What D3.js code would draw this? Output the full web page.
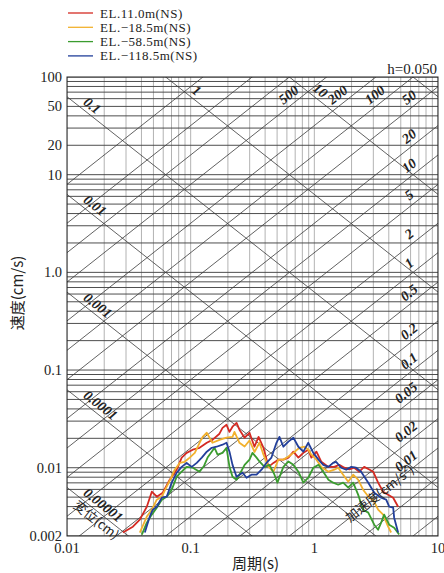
<!DOCTYPE html>
<html><head><meta charset="utf-8">
<script src="https://cdn.jsdelivr.net/npm/d3@7"></script>
<style>body{margin:0;background:#fff}svg{display:block}</style>
</head><body>
<script>
// ---- data ----
const seriesNames = ["EL.11.0m(NS)", "EL.\u221218.5m(NS)", "EL.\u221258.5m(NS)", "EL.\u2212118.5m(NS)"];
const seriesColors = ["#d42a22", "#f2b12e", "#3b9c2f", "#223f9a"];

const redT = [0.0283,0.0341,0.0388,0.0442,0.0485,0.0532,0.0595,0.0677,0.0771,0.0846,0.0928,0.104,0.118,0.135,0.150,0.171,0.181,0.195,0.206,0.218,0.235,0.248,0.273,0.299,0.328,0.354,0.388,0.426,0.467,0.512,0.562,0.617,0.677,0.743,0.815,0.894,0.946,1.04,1.14,1.30,1.45,1.59,1.75,1.92,2.10,2.31,2.53,2.78,2.99,3.28,3.60,3.95,4.34,4.76];
const redV = [0.00217,0.00249,0.00294,0.00399,0.00568,0.00505,0.00555,0.00754,0.00954,0.0127,0.0142,0.0153,0.0160,0.0180,0.0193,0.0223,0.0256,0.0275,0.0233,0.0263,0.0288,0.0245,0.0203,0.0228,0.0164,0.0207,0.0160,0.0102,0.0112,0.0121,0.0121,0.0127,0.0146,0.0127,0.0142,0.0153,0.0127,0.0146,0.0115,0.0102,0.0102,0.0107,0.0100,0.0096,0.0100,0.0091,0.0102,0.0096,0.0091,0.00703,0.00568,0.0053,0.00493,0.00399];

const yellowT = [0.0388,0.0442,0.0485,0.0532,0.0584,0.0640,0.0703,0.0743,0.0815,0.0894,0.0982,0.108,0.118,0.125,0.135,0.142,0.150,0.171,0.195,0.218,0.226,0.248,0.273,0.299,0.328,0.360,0.388,0.426,0.467,0.512,0.562,0.617,0.677,0.757,0.831,0.894,0.946,1.04,1.14,1.30,1.45,1.56,1.71,1.88,2.06,2.26,2.48,2.78,2.99,3.28,3.60,3.95,4.18];
const yellowV = [0.00217,0.00316,0.00372,0.00471,0.00505,0.00639,0.00809,0.00954,0.0112,0.0115,0.0127,0.0142,0.0180,0.0207,0.0228,0.0203,0.0180,0.0193,0.0203,0.0207,0.0233,0.0180,0.0165,0.0190,0.0145,0.0180,0.0136,0.0102,0.0091,0.0121,0.0121,0.0130,0.0142,0.0160,0.0164,0.0153,0.0136,0.0121,0.0102,0.0091,0.00954,0.0100,0.00848,0.00719,0.00848,0.00754,0.00596,0.00493,0.00471,0.00372,0.00331,0.00249,0.00217];

const greenT = [0.0403,0.0442,0.0485,0.0532,0.0584,0.0640,0.0703,0.0771,0.0846,0.0928,0.104,0.118,0.128,0.137,0.148,0.156,0.165,0.181,0.195,0.206,0.218,0.235,0.248,0.273,0.299,0.316,0.341,0.360,0.395,0.434,0.476,0.503,0.562,0.617,0.677,0.743,0.815,0.894,0.981,1.08,1.18,1.30,1.42,1.56,1.71,1.88,2.06,2.26,2.48,2.73,3.05,3.28,3.47,3.67,4.03,4.42,4.85];
const greenV = [0.00207,0.00274,0.00331,0.0039,0.00471,0.00505,0.00596,0.00809,0.0091,0.0102,0.0100,0.0091,0.0104,0.0127,0.0146,0.0160,0.0136,0.0142,0.0160,0.0102,0.00809,0.00754,0.00848,0.0107,0.0121,0.0142,0.0127,0.0116,0.0102,0.0107,0.00848,0.00703,0.0102,0.0116,0.0107,0.0091,0.00703,0.0079,0.0100,0.0107,0.0091,0.00754,0.00703,0.0067,0.00703,0.00624,0.00703,0.0053,0.00372,0.00347,0.00261,0.00232,0.00274,0.00331,0.00261,0.00243,0.00207];

const blueT = [0.0426,0.0467,0.0494,0.0532,0.0584,0.0640,0.0703,0.0771,0.0846,0.0928,0.102,0.112,0.123,0.135,0.148,0.162,0.181,0.195,0.206,0.218,0.235,0.248,0.263,0.283,0.310,0.341,0.374,0.410,0.450,0.494,0.522,0.562,0.617,0.677,0.743,0.815,0.894,0.981,1.08,1.18,1.30,1.42,1.50,1.65,1.81,1.99,2.18,2.39,2.73,3.05,3.47,3.81,4.03,4.34,4.42,4.76];
const blueV = [0.00217,0.00316,0.00372,0.00399,0.00493,0.00505,0.00703,0.00889,0.0102,0.0112,0.0102,0.0112,0.0127,0.0146,0.0160,0.0164,0.0172,0.0180,0.0146,0.0107,0.00809,0.00848,0.00889,0.0079,0.00848,0.00848,0.00954,0.0112,0.0127,0.0180,0.0207,0.0164,0.0185,0.0203,0.0164,0.0146,0.0180,0.0142,0.0121,0.0107,0.0102,0.0112,0.0115,0.0100,0.00954,0.0102,0.0100,0.0091,0.00703,0.00555,0.00493,0.00471,0.00399,0.0039,0.00308,0.00217];

const xTicks = [0.01, 0.1, 1, 10];
const xTickLabels = ["0.01", "0.1", "1", "10"];
const yTicks = [100, 50, 20, 10, 1, 0.1, 0.01, 0.002];
const yTickLabels = ["100", "50", "20", "10", "1.0", "0.1", "0.01", "0.002"];

const dispValues = [0.00001, 0.0001, 0.001, 0.01, 0.1, 1, 10, 100];
const dispLabels = ["0.00001", "0.0001", "0.001", "0.01", "0.1", "1", "10", ""];
const accValues = [0.002, 0.005, 0.01, 0.02, 0.05, 0.1, 0.2, 0.5, 1, 2, 5, 10, 20, 50, 100, 200, 500, 1000, 2000, 5000];
const accLabels = ["", "", "0.01", "0.02", "0.05", "0.1", "0.2", "0.5", "1", "2", "5", "10", "20", "50", "100", "200", "500", "", "", ""];

const dampingText = "h=0.050";
const xTitle = "周期(s)";
const yTitle = "速度(cm/s)";
const dispTitle = "変位(cm)";
const accTitle = "加速度(cm/s²)";

// ---- drawing ----
const W = 444, H = 573;
const L = 67, R = 438, T = 77, B = 536;
const serif = "'Liberation Serif','Times New Roman',serif";
const cjk = "'Noto Sans CJK JP','Noto Sans CJK SC',sans-serif";

const svg = d3.select("body").append("svg").attr("width", W).attr("height", H);
const x = d3.scaleLog().domain([0.01, 10]).range([L, R]);
const y = d3.scaleLog().domain([0.002, 100]).range([B, T]);

svg.append("clipPath").attr("id", "clip").append("rect")
  .attr("x", L).attr("y", T).attr("width", R - L).attr("height", B - T);
const plot = svg.append("g").attr("clip-path", "url(#clip)");

// vertical grid
const vGrid = [];
[0.01, 0.1, 1].forEach(k => { for (let m = 1; m <= 9; m++) vGrid.push(k * m); });
vGrid.push(10);
plot.selectAll(".vg").data(vGrid).enter().append("line")
  .attr("x1", d => x(d)).attr("x2", d => x(d)).attr("y1", T).attr("y2", B)
  .attr("stroke", "#a0a0a0").attr("stroke-width", 0.8);

// horizontal grid
const hGrid = [];
[0.001, 0.01, 0.1, 1, 10].forEach(k => { for (let m = 1; m <= 9; m++) { const v = +(k * m).toPrecision(3); if (v >= 0.002 && v <= 100) hGrid.push(v); } });
hGrid.push(100);
plot.selectAll(".hg").data(hGrid).enter().append("line")
  .attr("x1", L).attr("x2", R).attr("y1", d => y(d)).attr("y2", d => y(d))
  .attr("stroke", "#444").attr("stroke-width", 0.95);

// diagonal lines
const TW = 2 * Math.PI;
const Tmin = 0.001, Tmax = 20;
plot.selectAll(".dl").data(dispValues).enter().append("line")
  .attr("x1", d => x(Tmin)).attr("y1", d => y(TW * d / Tmin))
  .attr("x2", d => x(Tmax)).attr("y2", d => y(TW * d / Tmax))
  .attr("stroke", "#3a3a3a").attr("stroke-width", 0.8);
plot.selectAll(".al").data(accValues).enter().append("line")
  .attr("x1", d => x(Tmin)).attr("y1", d => y(d * Tmin / TW))
  .attr("x2", d => x(Tmax)).attr("y2", d => y(d * Tmax / TW))
  .attr("stroke", "#3a3a3a").attr("stroke-width", 0.8);

const ang = Math.atan2(y(1) - y(10), x(1) - x(0.1)) * 180 / Math.PI;

// displacement labels
const lblG = svg.append("g");
dispValues.forEach((d, i) => {
  const txt = dispLabels[i];
  if (!txt) return;
  let px = x(TW * d / 62);
  let anchor = "middle";
  if (px < 92) { px = 80; anchor = "start"; }
  const py = y(TW * d / x.invert(px));
  lblG.append("text").attr("transform", `translate(${px},${py}) rotate(${ang})`)
    .attr("dy", -4).attr("text-anchor", anchor)
    .attr("font-family", serif).attr("font-style", "italic").attr("font-weight", "bold")
    .attr("font-size", 14).attr("fill", "#222").text(txt);
});
{
  const d = dispValues[0];
  const px = 80, py = y(TW * d / x.invert(px));
  lblG.append("text").attr("transform", `translate(${px},${py}) rotate(${ang})`)
    .attr("dy", 12).attr("text-anchor", "start")
    .attr("font-family", cjk).attr("font-size", 13).attr("fill", "#222").text(dispTitle);
}
// acceleration labels
accValues.forEach((a, i) => {
  const txt = accLabels[i];
  if (!txt) return;
  let px = x(TW * 55 / a);
  if (px > 415) px = a < 0.08 ? 412 : 415;
  const py = y(a * x.invert(px) / TW);
  lblG.append("text").attr("transform", `translate(${px},${py}) rotate(${-ang})`)
    .attr("dy", -5).attr("text-anchor", "middle")
    .attr("font-family", serif).attr("font-style", "italic").attr("font-weight", "bold")
    .attr("font-size", 14).attr("fill", "#222").text(txt);
});
{
  const a = 0.01, px = 380, py = y(a * x.invert(px) / TW);
  lblG.append("text").attr("transform", `translate(${px},${py}) rotate(${-ang})`)
    .attr("dy", 4).attr("text-anchor", "middle")
    .attr("font-family", cjk).attr("font-size", 13).attr("fill", "#222").text(accTitle);
}

// series
const series = [
  { T: redT, V: redV },
  { T: yellowT, V: yellowV },
  { T: greenT, V: greenV },
  { T: blueT, V: blueV }
];
const lineGen = d3.line().x(d => x(d[0])).y(d => y(d[1]));
series.forEach((s, i) => {
  const pts = s.T.map((t, j) => [t, s.V[j]]);
  plot.append("path").attr("d", lineGen(pts)).attr("fill", "none")
    .attr("stroke", seriesColors[i]).attr("stroke-width", 1.8).attr("stroke-linejoin", "round");
});

// frame
svg.append("rect").attr("x", L).attr("y", T).attr("width", R - L).attr("height", B - T)
  .attr("fill", "none").attr("stroke", "#222").attr("stroke-width", 1);

// axes labels
svg.selectAll(".yt").data(yTicks).enter().append("text")
  .attr("x", L - 5).attr("y", d => y(d)).attr("dy", "0.35em").attr("text-anchor", "end")
  .attr("font-family", serif).attr("font-size", 14.5).attr("fill", "#222")
  .text((d, i) => yTickLabels[i]);
svg.selectAll(".xt").data(xTicks).enter().append("text")
  .attr("x", d => x(d)).attr("y", 553).attr("text-anchor", "middle")
  .attr("font-family", serif).attr("font-size", 14.5).attr("fill", "#222")
  .text((d, i) => xTickLabels[i]);

svg.append("text").attr("x", (L + R) / 2 + 3).attr("y", 569).attr("text-anchor", "middle")
  .attr("font-family", cjk).attr("font-size", 15).attr("fill", "#222").text(xTitle);
svg.append("text").attr("transform", `translate(23,293) rotate(-90)`).attr("text-anchor", "middle")
  .attr("font-family", cjk).attr("font-size", 15).attr("fill", "#222").text(yTitle);

svg.append("text").attr("x", R - 1).attr("y", 74).attr("text-anchor", "end")
  .attr("font-family", serif).attr("font-size", 15).attr("fill", "#222").text(dampingText);

// legend
const lg = svg.append("g");
seriesNames.forEach((n, i) => {
  const ly = 13 + i * 14.3;
  lg.append("line").attr("x1", 68).attr("x2", 93).attr("y1", ly).attr("y2", ly)
    .attr("stroke", seriesColors[i]).attr("stroke-width", 1.3);
  lg.append("text").attr("x", 100).attr("y", ly).attr("dy", "0.35em")
    .attr("font-family", serif).attr("font-size", 13).attr("letter-spacing", 0.5)
    .attr("fill", "#222").text(n);
});
</script>
</body></html>
